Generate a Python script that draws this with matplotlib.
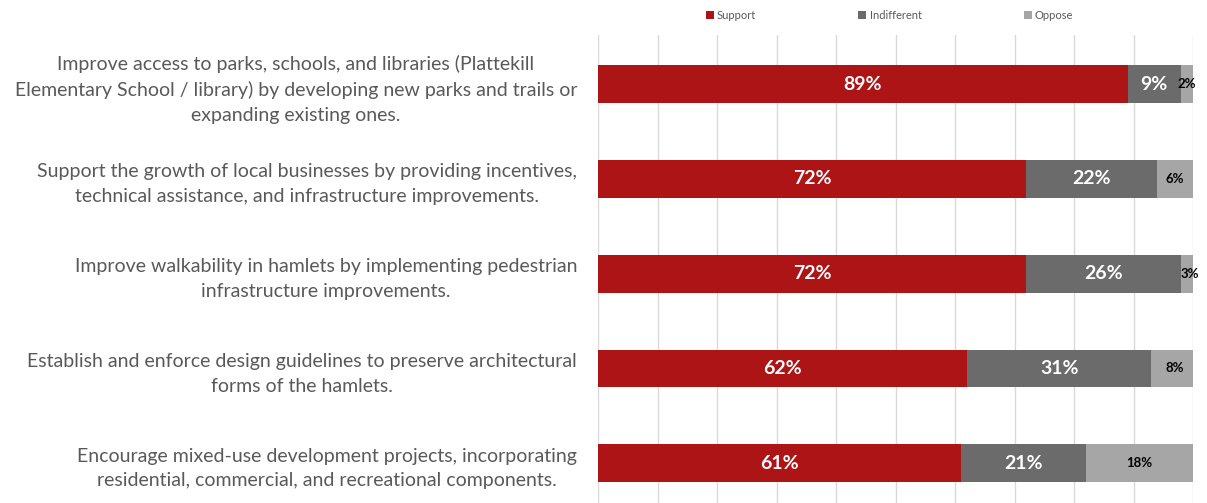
import matplotlib.pyplot as plt
from matplotlib.patches import Patch

plt.rcParams['font.family'] = ['Lato', 'DejaVu Sans']

STATEMENTS = [
    'Improve access to parks, schools, and libraries (Plattekill\n'
    'Elementary School / library) by developing new parks and trails or\n'
    'expanding existing ones.',
    'Support the growth of local businesses by providing incentives,\n'
    'technical assistance, and infrastructure improvements.',
    'Improve walkability in hamlets by implementing pedestrian\n'
    'infrastructure improvements.',
    'Establish and enforce design guidelines to preserve architectural\n'
    'forms of the hamlets.',
    'Encourage mixed-use development projects, incorporating\n'
    'residential, commercial, and recreational components.',
]
SERIES = ['Support', 'Indifferent', 'Oppose']
support = [89, 72, 72, 62, 61]
indifferent = [9, 22, 26, 31, 21]
oppose = [2, 6, 3, 8, 18]

COLORS = ['#AD1416', '#6B6B6B', '#A6A6A6']
TEXT_GRAY = '#595959'

fig = plt.figure(figsize=(12.07, 5.03), dpi=100)
ax = fig.add_axes([598 / 1207, 0, 595 / 1207, 468 / 503])

y = list(range(len(STATEMENTS)))
left = [0] * len(y)
for name, vals, color in zip(SERIES, [support, indifferent, oppose], COLORS):
    bars = ax.barh(y, vals, left=left, height=0.4, color=color, label=name,
                   zorder=3)
    for b, v, l in zip(bars, vals, left):
        cx = l + v / 2
        if name == 'Oppose':
            ax.text(min(cx, 99.7), b.get_y() + b.get_height() / 2, f'{v}%',
                    ha='center', va='center', color='black',
                    fontsize=9.5, fontweight='bold', zorder=4)
        else:
            ax.text(cx, b.get_y() + b.get_height() / 2, f'{v}%',
                    ha='center', va='center', color='white',
                    fontsize=14, fontweight='bold', zorder=4)
    left = [a + b for a, b in zip(left, vals)]

ax.set_xlim(0, 100)
ax.set_ylim(4.42, -0.52)
ax.set_xticks(range(0, 101, 10))
ax.xaxis.grid(True, color='#D9D9D9', linewidth=1, zorder=0)
ax.tick_params(axis='x', length=0, labelbottom=False)
ax.tick_params(axis='y', length=0, pad=15)
ax.set_yticks(y)
ax.set_yticklabels(STATEMENTS, fontsize=14, color=TEXT_GRAY,
                   multialignment='center', linespacing=1.55)
for s in ax.spines.values():
    s.set_visible(False)

handles = [Patch(facecolor=c, label=n) for n, c in zip(SERIES, COLORS)]
fig.legend(handles=handles, loc='center', bbox_to_anchor=(0.737, 0.97),
           ncol=3, frameon=False, fontsize=8, labelcolor=TEXT_GRAY,
           handlelength=0.7, handleheight=0.7, handletextpad=0.3,
           columnspacing=9.2)

fig.savefig('out.png', dpi=100)
